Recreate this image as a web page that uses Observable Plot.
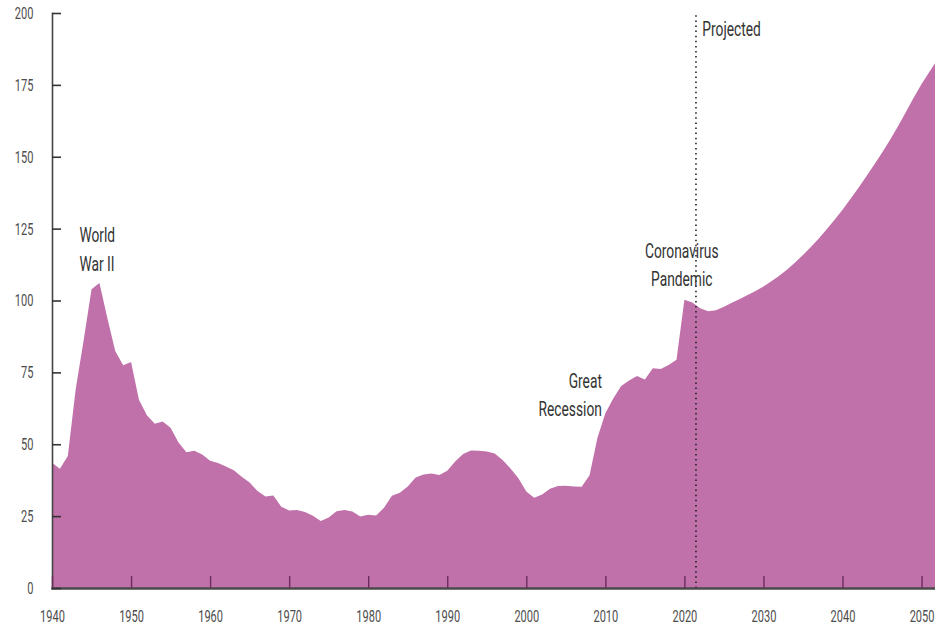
<!DOCTYPE html>
<html>
<head>
<meta charset="utf-8">
<script src="https://cdn.jsdelivr.net/npm/d3@7"></script>
<script src="https://cdn.jsdelivr.net/npm/@observablehq/plot@0.6"></script>
<style>
  html, body { margin: 0; padding: 0; background: #fff; }
  #chart svg { display: block; }
</style>
</head>
<body>
<div id="chart"></div>
<script>
// Federal debt held by the public, percentage of GDP
const years = [
  1940,1941,1942,1943,1944,1945,1946,1947,1948,1949,
  1950,1951,1952,1953,1954,1955,1956,1957,1958,1959,
  1960,1961,1962,1963,1964,1965,1966,1967,1968,1969,
  1970,1971,1972,1973,1974,1975,1976,1977,1978,1979,
  1980,1981,1982,1983,1984,1985,1986,1987,1988,1989,
  1990,1991,1992,1993,1994,1995,1996,1997,1998,1999,
  2000,2001,2002,2003,2004,2005,2006,2007,2008,2009,
  2010,2011,2012,2013,2014,2015,2016,2017,2018,2019,
  2020,2021,2022,2023,2024,2025,2026,2027,2028,2029,
  2030,2031,2032,2033,2034,2035,2036,2037,2038,2039,
  2040,2041,2042,2043,2044,2045,2046,2047,2048,2049,
  2050,2051,2052
];
const debtPct = [
  43.6,41.5,45.9,69.2,86.1,103.9,106.1,93.9,82.4,77.5,
  78.6,65.5,60.1,57.1,57.9,55.7,50.6,47.2,47.7,46.4,
  44.3,43.5,42.3,41.0,38.7,36.7,33.7,31.8,32.2,28.3,
  27.0,27.1,26.4,25.1,23.3,24.5,26.7,27.1,26.6,24.9,
  25.5,25.2,27.9,32.1,33.1,35.3,38.4,39.5,39.8,39.3,
  40.8,44.0,46.6,47.8,47.7,47.5,46.8,44.5,41.6,38.2,
  33.6,31.4,32.5,34.5,35.5,35.6,35.3,35.2,39.2,52.3,
  60.8,65.9,70.3,72.2,73.7,72.5,76.4,76.2,77.6,79.4,
  100.3,99.3,97.3,96.3,96.6,97.8,99.2,100.5,101.9,103.3,
  104.9,106.7,108.6,110.8,113.2,115.8,118.6,121.6,124.8,128.1,
  131.6,135.3,139.1,143.1,147.2,151.4,155.8,160.5,165.5,170.5,
  175.3,179.6,183.8
];
const yTicks = [0, 25, 50, 75, 100, 125, 150, 175, 200];
const xTicks = [1940, 1950, 1960, 1970, 1980, 1990, 2000, 2010, 2020, 2030, 2040, 2050];
const projectionStart = [2021.4];

// annotation anchors in data units
const notesStart = [
  {year: 1943.4, value: 118.6, label: "World\nWar II"},
  {year: 2022.2, value: 195.3, label: "Projected"}
];
const notesEnd = [
  {year: 2009.5, value: 68.1, label: "Great\nRecession"}
];
const notesMiddle = [
  {year: 2019.6, value: 113.3, label: "Coronavirus\nPandemic"}
];

const data = years.map((year, i) => ({year, value: debtPct[i]}));

const font = "Roboto, 'Noto Sans', sans-serif";
const noteStyle = {x: "year", y: "value", text: "label", lineAnchor: "middle", lineHeight: 1.42, fontSize: 20, fill: "#333"};

const chart = Plot.plot({
  width: 935,
  height: 627,
  marginLeft: 52,
  marginRight: 0,
  marginTop: 13,
  marginBottom: 39,
  style: {fontFamily: font, fontSize: "17px", background: "#fff"},
  x: {domain: [1940, 2051.7]},
  y: {domain: [0, 200]},
  marks: [
    Plot.areaY(data, {x: "year", y: "value", fill: "#c071a9", clip: true}),
    Plot.ruleX(projectionStart, {y1: 0, y2: 200, stroke: "#222", strokeWidth: 1.6, strokeDasharray: "1.5,3.6"}),
    Plot.frame({anchor: "left", stroke: "#444", strokeWidth: 1.6}),
    Plot.frame({anchor: "bottom", stroke: "#4a4a4a", strokeWidth: 2.5}),
    // y ticks pointing inward
    Plot.axisY({ticks: yTicks, tickSize: 9, dx: 9, tickFormat: () => "", stroke: "#333", strokeWidth: 1.6, label: null}),
    Plot.axisY({ticks: yTicks, tickSize: 0, tickPadding: 19, fill: "#4d4d4d", fontSize: 17, label: null}),
    // x ticks pointing upward
    Plot.axisX({ticks: xTicks, tickSize: 12, dy: -12, tickFormat: () => "", stroke: "#6a2d5c", strokeWidth: 1.4, label: null}),
    Plot.axisX({ticks: xTicks, tickSize: 0, tickPadding: 21, tickFormat: d => String(d), fill: "#4d4d4d", fontSize: 17, label: null}),
    Plot.text(notesStart, {...noteStyle, textAnchor: "start"}),
    Plot.text(notesEnd, {...noteStyle, textAnchor: "end"}),
    Plot.text(notesMiddle, {...noteStyle, textAnchor: "middle"})
  ]
});

// condense the lettering horizontally (the reference uses a condensed face)
chart.querySelectorAll("text").forEach(t => {
  const isNote = t.parentNode && t.parentNode.getAttribute("aria-label") === "text";
  const s = isNote ? 0.69 : 0.65;
  const tr = t.getAttribute("transform") || "";
  t.setAttribute("transform", `${tr} scale(${s},1)`);
});

document.getElementById("chart").appendChild(chart);
</script>
</body>
</html>
